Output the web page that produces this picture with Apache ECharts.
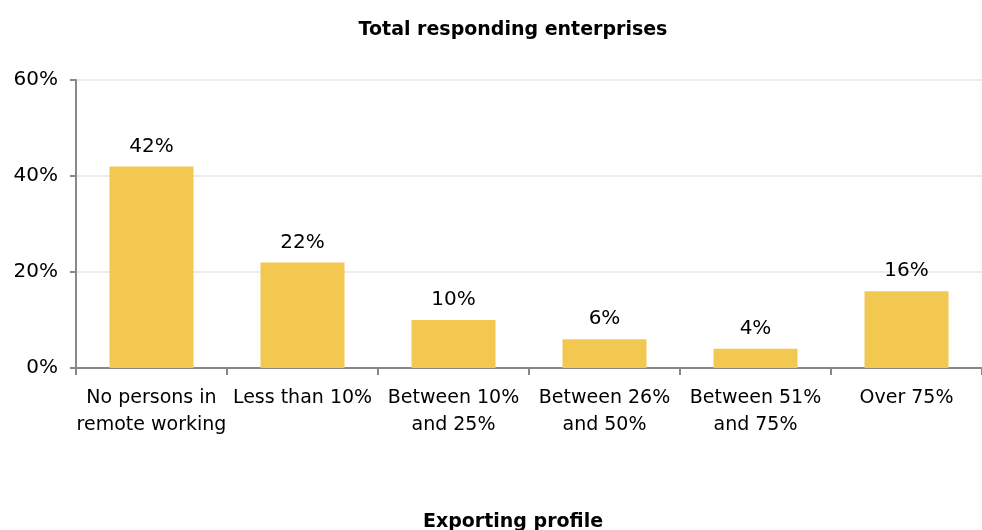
<!DOCTYPE html>
<html><head><meta charset="utf-8">
<script src="https://cdn.jsdelivr.net/npm/echarts@6/dist/echarts.min.js"></script>
<style>html,body{margin:0;padding:0;background:#fff}#c{width:982px;height:530px}</style>
</head><body><div id="c"></div>
<script>
var categories = ["No persons in\nremote working", "Less than 10%", "Between 10%\nand 25%", "Between 26%\nand 50%", "Between 51%\nand 75%", "Over 75%"];
var values = [42, 22, 10, 6, 4, 16];
var yTicks = [0, 20, 40, 60];
var titleText = "Total responding enterprises";
var subTitleText = "Exporting profile";

var FONT = "DejaVu Sans";
var chart = echarts.init(document.getElementById('c'), null, {renderer: 'canvas'});
chart.setOption({
  animation: false,
  title: [
    {text: titleText, left: 508, top: 16, textAlign: 'center',
     textStyle: {fontFamily: FONT, fontSize: 19, fontWeight: 'bold', color: '#000'}},
    {text: subTitleText, left: 508, top: 508, textAlign: 'center',
     textStyle: {fontFamily: FONT, fontSize: 19, fontWeight: 'bold', color: '#000'}}
  ],
  grid: {left: 76, top: 80, width: 916, height: 288, containLabel: false},
  xAxis: {
    type: 'category', data: categories,
    axisLine: {lineStyle: {color: '#888', width: 2}},
    axisTick: {show: true, length: 7, lineStyle: {color: '#888', width: 2}},
    axisLabel: {fontFamily: FONT, fontSize: 19, color: '#000', margin: 17, lineHeight: 27, interval: 0}
  },
  yAxis: {
    type: 'value', min: yTicks[0], max: yTicks[yTicks.length - 1], interval: 20,
    axisLine: {show: true, lineStyle: {color: '#888', width: 2}},
    axisTick: {show: true, length: 6, lineStyle: {color: '#888', width: 2}},
    axisLabel: {fontFamily: FONT, fontSize: 20, color: '#000', margin: 18, formatter: '{value}%'},
    splitLine: {lineStyle: {color: '#ececec', width: 2}}
  },
  series: [{
    type: 'bar', data: values, barWidth: 84,
    itemStyle: {color: '#F2C851'},
    label: {show: true, position: 'top', distance: 10, formatter: '{c}%',
      fontFamily: FONT, fontSize: 20, color: '#000'}
  }]
});
</script></body></html>
